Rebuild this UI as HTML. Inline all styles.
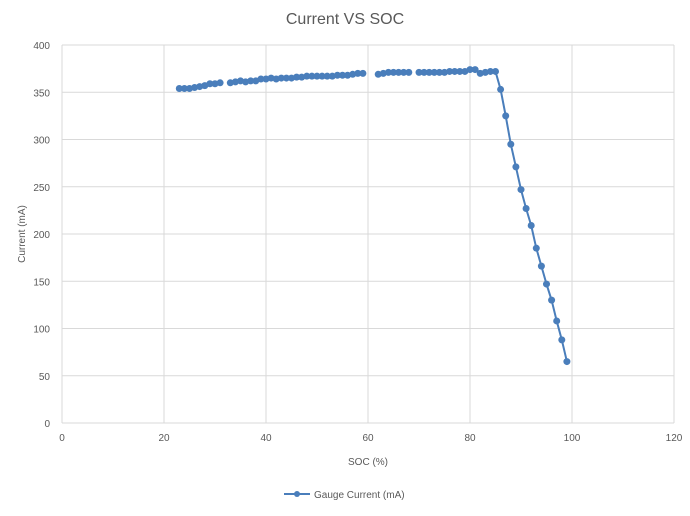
<!DOCTYPE html>
<html><head><meta charset="utf-8"><style>
body{margin:0;background:#fff;font-family:"Liberation Sans",sans-serif}
</style></head><body>
<svg width="690" height="511" xmlns="http://www.w3.org/2000/svg">
<rect width="690" height="511" fill="#fff"/>
<text x="345" y="24" text-anchor="middle" font-size="16" fill="#595959">Current VS SOC</text>
<g id="grid"></g><g id="axes"></g><g id="series"></g>
<text x="368" y="465" text-anchor="middle" font-size="10" fill="#595959">SOC (%)</text>
<text transform="translate(25,234) rotate(-90)" text-anchor="middle" font-size="10" fill="#595959">Current (mA)</text>
<g>
<line x1="284" y1="494" x2="310" y2="494" stroke="#4a7ebb" stroke-width="2"/>
<circle cx="297" cy="494" r="3" fill="#4a7ebb"/>
<text x="314" y="498" font-size="10" fill="#595959">Gauge Current (mA)</text>
</g>
</svg>
<script>
const xTicks=[0,20,40,60,80,100,120];
const yTicks=[0,50,100,150,200,250,300,350,400];
const socValues=[23,24,25,26,27,28,29,30,31,null,33,34,35,36,37,38,39,40,41,42,43,44,45,46,47,48,49,50,51,52,53,54,55,56,57,58,59,null,62,63,64,65,66,67,68,null,70,71,72,73,74,75,76,77,78,79,80,81,82,83,84,85,86,87,88,89,90,91,92,93,94,95,96,97,98,99];
const currentValues=[354,354,354,355,356,357,359,359,360,null,360,361,362,361,362,362,364,364,365,364,365,365,365,366,366,367,367,367,367,367,367,368,368,368,369,370,370,null,369,370,371,371,371,371,371,null,371,371,371,371,371,371,372,372,372,372,374,374,370,371,372,372,353,325,295,271,247,227,209,185,166,147,130,108,88,65];
const NS="http://www.w3.org/2000/svg";
const X=v=>62+v*(612/120), Y=v=>423-v*(378/400);
function mk(t,a,p){const e=document.createElementNS(NS,t);for(const k in a)e.setAttribute(k,a[k]);p.appendChild(e);return e;}
const grid=document.getElementById('grid'),axes=document.getElementById('axes'),ser=document.getElementById('series');
xTicks.forEach(t=>{
 const l=mk('line',{x1:X(t),x2:X(t),y1:Y(0),y2:Y(400),stroke:'#d9d9d9','stroke-width':1},grid);
 
 
 const s=mk('text',{x:X(t),y:441,'text-anchor':'middle','font-size':10,fill:'#595959'},axes);s.textContent=t;
 
 
});
yTicks.forEach(t=>{
 const l=mk('line',{x1:X(0),x2:X(120),y1:Y(t),y2:Y(t),stroke:'#d9d9d9','stroke-width':1},grid);
 
 
 const s=mk('text',{x:50,y:Y(t)+4,'text-anchor':'end','font-size':10,fill:'#595959'},axes);s.textContent=t;
 
 
});
let d='',pen=false;
socValues.forEach((s,i)=>{const c=currentValues[i];if(s==null||c==null){pen=false;return;}d+=(pen?'L':'M')+X(s)+' '+Y(c);pen=true;});
const path=mk('path',{d:d,fill:'none',stroke:'#4a7ebb','stroke-width':2},ser);


socValues.forEach((s,i)=>{const c=currentValues[i];if(s==null||c==null)return;
 const p=mk('circle',{cx:X(s),cy:Y(c),r:3.5,fill:'#4a7ebb'},ser);
 
 
});
</script>
</body></html>
